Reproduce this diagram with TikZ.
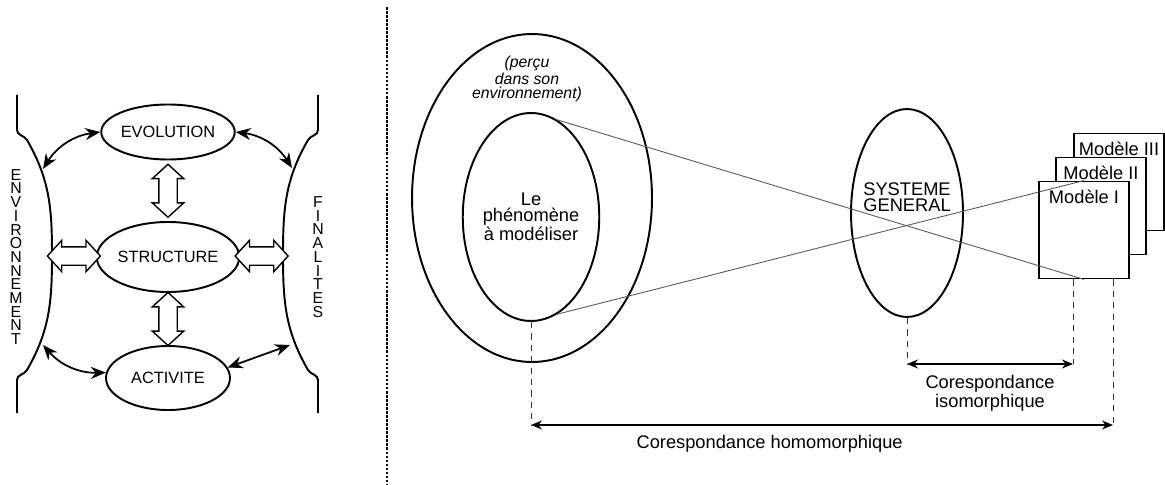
\documentclass[tikz,border=0pt]{standalone}
\usepackage{fontspec}
\setmainfont{Liberation Sans}
\usetikzlibrary{shapes.geometric,shapes.arrows,arrows.meta,calc,positioning}
\begin{document}
\begin{tikzpicture}[x=0.02cm,y=0.02cm,line width=1.1pt,
  txt/.style={font=\fontsize{10.4}{9.2}\selectfont,align=center,inner sep=0pt},
  blob/.style={ellipse,draw,inner sep=0pt,minimum width=2.48cm,font=\fontsize{9.3}{9}\selectfont},
  oval/.style={ellipse,draw,txt,minimum width=2.24cm,minimum height=4.16cm},
  hollow/.style={double arrow,draw,fill=white,line width=0.8pt,inner sep=0pt,text height=0.34cm,text depth=0pt,minimum height=1.06cm,double arrow head extend=0.13cm,double arrow tip angle=95},
  link/.style={{Stealth[length=0.3cm,width=0.24cm]}-{Stealth[length=0.3cm,width=0.24cm]},line width=1pt},
  side/.style={font=\fontsize{9}{7.8}\selectfont,align=center,inner sep=0pt},
  model/.style={rectangle,draw,fill=white,txt,minimum width=1.8cm,text height=0.44cm,text depth=1.5cm},
  ray/.style={line width=0.5pt,gray!70!black},
  guide/.style={dash pattern=on 3.5pt off 3pt,line width=0.5pt,black!80},
  dim/.style={{Stealth[length=0.22cm,width=0.18cm]}-{Stealth[length=0.22cm,width=0.18cm]},line width=0.7pt}]
\useasboundingbox (0,0) rectangle (1165,484);
\draw (17,389) -- (17,354) to[out=-90,in=120] (27,344) to[out=-60,in=90] (52,229)
  to[out=-90,in=60] (27,114) to[out=-120,in=90] (17,104) -- (17,71);
\draw (318,389) -- (318,354) to[out=-90,in=60] (308,344) to[out=-120,in=90] (283,229)
  to[out=-90,in=120] (308,114) to[out=-60,in=90] (318,104) -- (318,71);
\coordinate (envT) at (43,315);
\coordinate (envB) at (43,139);
\coordinate (envM) at (52,229);
\coordinate (finT) at (292,316);
\coordinate (finB) at (290,139);
\coordinate (finM) at (283,229);
\node[side] (env) at (16,227) {E\\N\\V\\I\\R\\O\\N\\N\\E\\M\\E\\N\\T};
\node[side] (fin) at (318,227) {F\\I\\N\\A\\L\\I\\T\\E\\S};
\node[blob,minimum height=1.1cm] (evo) at (168,352) {EVOLUTION};
\node[blob,minimum height=1.4cm] (str) at (168,227) {STRUCTURE};
\node[blob,minimum height=1.28cm] (act) at (168,106) {ACTIVITE};
\node[hollow,rotate=90] (h1) at ($(evo.south)!0.5!(str.north)$) {};
\node[hollow,rotate=90] (h2) at ($(str.south)!0.5!(act.north)$) {};
\node[hollow] (h3) at ($(envM)!0.5!(str.west)$) {};
\node[hollow] (h4) at ($(str.east)!0.5!(finM)$) {};
\draw[link] (envT) to[bend left=25] (evo.west);
\draw[link] (evo.east) to[bend left=25] (finT);
\draw[link] (envB) to[bend right=25] (act.175);
\draw[link] (act.10) -- (finB);
\draw[dash pattern=on 1.5pt off 0.8pt,line width=0.6pt] (387,477) -- (387,0);
\node[ellipse,draw,minimum width=4.8cm,minimum height=6.56cm] (world) at (532,286) {};
\node[txt,font=\fontsize{9}{8}\selectfont\itshape] (percu) at (527,405) {(perçu\\dans son\\environnement)};
\node[oval] (phen) at (531,267) {Le\\phénomène\\à modéliser};
\node[oval] (sys) at (907,271) {};
\node[txt] (systxt) at (907,287) {SYSTEME\\GENERAL};
\node[model] (m3) at (1119,302) {Modèle III};
\node[model] (m2) at (1101,278) {Modèle II};
\node[model] (m1) at (1084,254) {Modèle I};
\draw[ray] (phen.75) -- (m1.south);
\draw[ray] (phen.-75) -- (m1.north);
\coordinate (m1d) at ([xshift=-0.22cm]m1.south);
\coordinate (m2d) at ([xshift=0.58cm]m1.south);
\coordinate (isoL) at (sys.south |- 0,120);
\coordinate (homL) at (phen.south |- 0,59);
\draw[guide] (sys.south) -- (isoL);
\draw[guide] (m1d) -- (m1d |- isoL);
\draw[guide] (phen.south) -- (homL);
\draw[guide] (m2d) -- (m2d |- homL);
\draw[dim] (isoL) -- (m1d |- isoL) node[midway,below=0.22cm,txt] {Corespondance\\isomorphique};
\draw[dim] (homL) -- (m2d |- homL) node[pos=0.41,below=0.2cm,txt] {Corespondance homomorphique};
\end{tikzpicture}
\end{document}
